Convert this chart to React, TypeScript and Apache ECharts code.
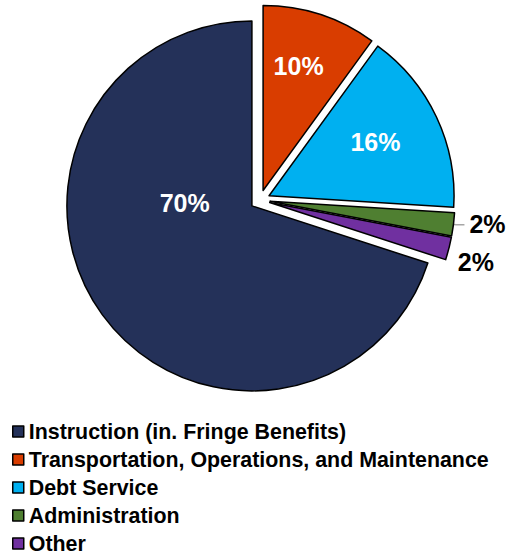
import React, { useEffect, useRef } from "react";
import * as echarts from "echarts";

const categories = [
  "Instruction (in. Fringe Benefits)",
  "Transportation, Operations, and Maintenance",
  "Debt Service",
  "Administration",
  "Other",
];
const shares = [70, 10, 16, 2, 2];
const colors = ["#243159", "#D93D00", "#00B0F0", "#4F7F31", "#7030A0"];
const insideLabel = [true, true, true, false, false];
const showLeader = [false, false, false, true, false];
// label nudges (px) relative to ECharts default placement
const labelNudge: [number, number][] = [
  [10, -59],
  [6, -34],
  [20, -13],
  [0, -1],
  [-7, 13],
];

const FONT = "'Liberation Sans', Arial, sans-serif";

export default function App() {
  const ref = useRef<HTMLDivElement>(null);
  useEffect(() => {
    if (!ref.current) return;
    const chart = echarts.init(ref.current, undefined, { renderer: "svg" });
    chart.setOption({
      animation: false,
      backgroundColor: "#ffffff",
      legend: {
        orient: "vertical",
        left: 12,
        top: 421,
        height: 200,
        padding: 0,
        itemWidth: 11,
        itemHeight: 11,
        itemGap: 7,
        icon: "rect",
        itemStyle: { borderColor: "#000", borderWidth: 1.5 },
        textStyle: {
          fontFamily: FONT,
          fontWeight: "bold",
          fontSize: 21.4,
          lineHeight: 21,
          color: "#000",
        },
        data: categories,
      },
      series: [
        {
          type: "pie",
          center: [260, 200],
          radius: 185,
          startAngle: -18,
          clockwise: true,
          selectedMode: "multiple",
          selectedOffset: 10,
          avoidLabelOverlap: false,
          itemStyle: { borderColor: "#000", borderWidth: 1.5 },
          emphasis: { disabled: true },
          labelLayout: (params: any) => {
            const n = labelNudge[params.dataIndex];
            return { dx: n[0], dy: n[1] };
          },
          data: categories.map((name, i) => ({
            name,
            value: shares[i],
            selected: true,
            itemStyle: { color: colors[i] },
            label: {
              show: true,
              position: insideLabel[i] ? "inside" : "outside",
              formatter: "{d}%",
              fontFamily: FONT,
              fontWeight: "bold",
              fontSize: 25,
              color: insideLabel[i] ? "#ffffff" : "#000000",
            },
            labelLine: {
              show: showLeader[i],
              length: 3,
              length2: 8,
              lineStyle: { color: "#A6A6A6", width: 1.5 },
            },
          })),
        },
      ],
    });
    return () => chart.dispose();
  }, []);
  return (
    <div
      ref={ref}
      style={{ position: "fixed", left: 0, top: 0, width: 510, height: 554 }}
    />
  );
}
